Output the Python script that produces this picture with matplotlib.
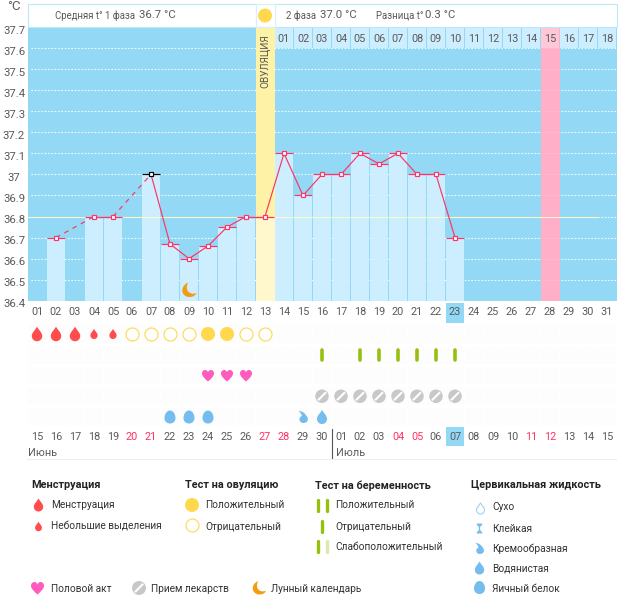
import matplotlib
matplotlib.use("Agg")
import matplotlib.pyplot as plt
from matplotlib.path import Path
from matplotlib.patches import Rectangle

plt.rcParams['font.family'] = ['Roboto', 'DejaVu Sans']

# ---------- data ----------
temp_days = [2, 4, 5, 7, 8, 9, 10, 11, 12, 13, 14, 15, 16, 17, 18, 19, 20, 21, 22, 23]
temps = [36.7, 36.8, 36.8, 37.0, 36.67, 36.6, 36.66, 36.75, 36.8, 36.8,
         37.1, 36.9, 37.0, 37.0, 37.1, 37.05, 37.1, 37.0, 37.0, 36.7]
black_day = 7
coverline = 36.8
y_ticks = [37.7, 37.6, 37.5, 37.4, 37.3, 37.2, 37.1, 37.0, 36.9, 36.8, 36.7, 36.6, 36.5, 36.4]
y_tick_labels = ['37.7', '37.6', '37.5', '37.4', '37.3', '37.2', '37.1', '37', '36.9', '36.8', '36.7', '36.6', '36.5', '36.4']
cycle_days = list(range(1, 32))
cal_labels = ['15', '16', '17', '18', '19', '20', '21', '22', '23', '24', '25', '26', '27', '28', '29', '30',
              '01', '02', '03', '04', '05', '06', '07', '08', '09', '10', '11', '12', '13', '14', '15']
red_cal = [6, 7, 13, 14, 20, 21, 27, 28]
today_day = 23
ovulation_day = 13
peak_day = 28
phase2_labels = ['01', '02', '03', '04', '05', '06', '07', '08', '09', '10', '11', '12', '13', '14', '15', '16', '17', '18']
mens_heavy = [1, 2, 3]
mens_light = [4, 5]
ov_neg = [6, 7, 8, 9, 12, 13]
ov_pos = [10, 11]
preg_neg = [16, 18, 19, 20, 21, 22, 23]
sex = [10, 11, 12]
meds = [16, 17, 18, 19, 20, 21, 22, 23]
cm_egg = [8, 9, 10]
cm_cream = [15]
cm_watery = [16]
moon_days = [9]

# ---------- colours ----------
SKY = '#93D9F5'
BAR = '#CCEEFF'
RED = '#FF3366'
TXT = '#5a5a5a'
DARK = '#333333'
YEL = '#FFD84D'
DROP = '#FF4D4D'
BLUE = '#74BDEE'
GRN = '#97BF0D'
GREY = '#C8C8C8'
PINK = '#FF5CBE'
ORG = '#F39C12'

W, H = 626, 595
fig = plt.figure(figsize=(W / 100, H / 100), dpi=100, facecolor='white')


def axes_px(x0, y0, x1, y1, **kw):
    a = fig.add_axes([x0 / W, 1 - y1 / H, (x1 - x0) / W, (y1 - y0) / H], **kw)
    a.axis('off')
    return a


# ---------- marker paths ----------
M, C, L, Z = Path.MOVETO, Path.CURVE4, Path.LINETO, Path.CLOSEPOLY
drop = Path([(0, 1), (0.25, 0.55), (0.72, 0.2), (0.72, -0.28), (0.72, -0.72), (0.38, -1), (0, -1),
             (-0.38, -1), (-0.72, -0.72), (-0.72, -0.28), (-0.72, 0.2), (-0.25, 0.55), (0, 1), (0, 1)],
            [M, C, C, C, C, C, C, C, C, C, C, C, C, Z])
egg = Path([(0, 1), (0.55, 1), (0.85, 0.35), (0.85, -0.15), (0.85, -0.65), (0.5, -1), (0, -1),
            (-0.5, -1), (-0.85, -0.65), (-0.85, -0.15), (-0.85, 0.35), (-0.55, 1), (0, 1), (0, 1)],
           [M, C, C, C, C, C, C, C, C, C, C, C, C, Z])
heart = Path([(0, -1), (-0.5, -0.55), (-1, -0.15), (-1, 0.35), (-1, 0.8), (-0.6, 1), (-0.35, 0.9),
              (-0.15, 0.85), (-0.05, 0.7), (0, 0.55), (0.05, 0.7), (0.15, 0.85), (0.35, 0.9),
              (0.6, 1), (1, 0.8), (1, 0.35), (1, -0.15), (0.5, -0.55), (0, -1), (0, -1)],
             [M, C, C, C, C, C, C, C, C, C, C, C, C, C, C, C, C, C, C, Z])
moon = Path([(-0.1, 1), (-0.75, 0.75), (-1, 0.2), (-0.85, -0.3), (-0.7, -0.85), (-0.1, -1), (0.35, -0.9),
             (0.65, -0.85), (0.9, -0.65), (1, -0.4), (0.5, -0.6), (0, -0.45), (-0.2, -0.05),
             (-0.35, 0.3), (-0.3, 0.7), (-0.1, 1), (-0.1, 1)],
            [M, C, C, C, C, C, C, C, C, C, C, C, C, C, C, C, Z])
cream = Path([(-0.75, 1), (-0.2, 1), (0.2, 0.75), (0.4, 0.4), (0.7, 0.15), (0.8, -0.1), (0.8, -0.4),
              (0.8, -0.8), (0.45, -1), (0.05, -1), (-0.35, -1), (-0.6, -0.7), (-0.6, -0.35),
              (-0.6, -0.05), (-0.35, 0.1), (-0.2, 0.15), (-0.25, 0.5), (-0.45, 0.8), (-0.75, 1), (-0.75, 1)],
             [M, C, C, C, C, C, C, C, C, C, C, C, C, C, C, C, C, C, C, Z])
sticky = Path([(-0.55, 1), (0.55, 1), (0.55, 0.75), (0.12, 0.3), (0.12, -0.3), (0.55, -0.75), (0.55, -1),
               (-0.55, -1), (-0.55, -0.75), (-0.12, -0.3), (-0.12, 0.3), (-0.55, 0.75), (-0.55, 1)],
              [M, L, L, L, L, L, L, L, L, L, L, L, Z])
slash = Path([(-0.7, -0.7), (0.7, 0.7)], [M, L])


def sym(ax, xs, ys, marker, px, color='none', edge='none', lw=0, z=6):
    s = (px * 0.72) ** 2
    ax.scatter(xs, ys, marker=marker, s=s, facecolors=color, edgecolors=edge, linewidths=lw, zorder=z, clip_on=False)


def pill(ax, xs, ys, px=13.5):
    sym(ax, xs, ys, 'o', px, GREY)
    sym(ax, xs, ys, slash, px * 0.6, 'none', 'white', 1.5, z=7)


# ---------- main temperature axes ----------
X0, X1 = 27.5, 616.5
ax = axes_px(X0, 27, X1, 300.8)
ax.set_xlim(0.5, 31.5)
ax.set_ylim(36.4, 37.7)
ax.axvspan(0.5, 31.5, color=SKY, lw=0, zorder=0)
for v in y_ticks[1:]:
    ax.plot([0.7, 31.5], [v, v], color='white', lw=0.8, ls=(0, (1.2, 1.8)), zorder=1, clip_on=False)
ax.axvspan(peak_day - 0.5, peak_day + 0.5, color='#FFB0C8', lw=0, zorder=1.5)
ax.axvspan(ovulation_day - 0.5, ovulation_day + 0.5, color='#FDF2A6', lw=0, zorder=1.5)

for d, t in zip(temp_days, temps):
    col = '#FFF8CC' if d == ovulation_day else BAR
    wid = 1.0 if d == ovulation_day else 18 / 19
    ax.bar(d, t - 36.4, bottom=36.4, width=wid, color=col, lw=0, zorder=2)
for v in y_ticks[1:]:
    ax.plot([0.7, 31.5], [v, v], color='white', lw=0.5, alpha=0.3, ls=(0, (1.2, 1.8)), zorder=2.5)
ax.plot([0.5, 30.5], [coverline, coverline], color='#FFF8C8', lw=0.7, zorder=2.6)

for i in range(len(temp_days) - 1):
    a, b = temp_days[i], temp_days[i + 1]
    ls = '-' if b - a == 1 else (0, (4, 4))
    ax.plot([a, b], [temps[i], temps[i + 1]], color=RED, lw=0.85, ls=ls, zorder=4)
for d, t in zip(temp_days, temps):
    c = 'black' if d == black_day else RED
    ax.plot([d - 0.45, d + 0.45], [t, t], color=c, lw=0.85, zorder=3.5, solid_capstyle='butt')
    ax.plot([d], [t], marker='s', ms=3.4, mfc='white', mec=c, mew=0.85, zorder=5)
sym(ax, moon_days, [36.451] * len(moon_days), moon, 15, ORG)

for v, lab in zip(y_ticks, y_tick_labels):
    ax.annotate(lab, (0, v), xycoords=('axes fraction', 'data'), xytext=(-13.5 * 0.72, -2.6), textcoords='offset points',
                ha='center', va='center', fontsize=8.2, color=TXT, annotation_clip=False)

# ---------- pixel overlay ----------
top = axes_px(0, 0, W, H)
top.set_xlim(0, W)
top.set_ylim(H, 0)


def T(a, x, y, s, size=7.8, color=DARK, ha='left', **kw):
    a.text(x, y, s, fontsize=size, color=color, ha=ha, va='center', **kw)


top.text(14, 6, '°C', fontsize=9.5, color=TXT, ha='center', va='center')
for x0, x1 in [(27.5, 255.5), (274.5, 616.5)]:
    top.add_patch(Rectangle((x0, 4), x1 - x0, 23, fc='white', ec='#BDE8F8', lw=0.8))
top.add_patch(Rectangle((255.5, 4), 19, 23, fc='white', ec='#D5F0FA', lw=0.8))
sym(top, [265], [15.5], 'o', 14, YEL)
T(top, 55, 15.5, 'Средняя t° 1 фаза', 6.9, TXT)
T(top, 139, 15.5, '36.7 °C', 8.2, TXT)
T(top, 286, 15.5, '2 фаза', 6.9, TXT)
T(top, 320, 15.5, '37.0 °C', 8.2, TXT)
T(top, 376, 15.5, 'Разница t°', 6.9, TXT)
T(top, 425, 15.5, '0.3 °C', 8.2, TXT)

# phase-2 day row
for i, lab in enumerate(phase2_labels):
    d = ovulation_day + 1 + i
    xc = 37 + 19 * (d - 1)
    fc = '#FFC8D8' if d == peak_day else BAR
    top.add_patch(Rectangle((xc - 9, 27.5), 18, 20.5, fc=fc, ec='none', zorder=2))
    T(top, xc, 39, lab, 7.8, TXT, ha='center', zorder=3)
top.text(265, 61, 'ОВУЛЯЦИЯ', fontsize=7.2, color=TXT, rotation=90, ha='center', va='center')

# ---------- rows axes ----------
R_TOP, R_BOT = 303, 460
STEP = 20.75
rows = axes_px(X0, R_TOP, X1, R_BOT)
rows.set_xlim(0.5, 31.5)
rows.set_ylim((R_BOT - 334) / STEP, (R_TOP - 334) / STEP)
for r in range(5):
    for d in cycle_days:
        rows.add_patch(Rectangle((d - 0.46, r - 0.43), 0.92, 0.86, fc='#FDFDFD', ec='none', zorder=0))

rows.add_patch(Rectangle((today_day - 0.47, -1.5), 0.94, 0.96, fc=SKY, ec='none', zorder=1))
rows.add_patch(Rectangle((today_day - 0.47, 4.5), 0.94, 0.92, fc=SKY, ec='none', zorder=1))
for d, lab in zip(cycle_days, cycle_days):
    rows.text(d, -1.05, f'{lab:02d}', fontsize=7.8, color=TXT, ha='center', va='center', zorder=2)
for d, lab in zip(cycle_days, cal_labels):
    c = RED if d in red_cal else TXT
    rows.text(d, 4.97, lab, fontsize=7.8, color=c, ha='center', va='center', zorder=2)

sym(rows, mens_heavy, [0] * len(mens_heavy), drop, 14.5, DROP)
sym(rows, mens_light, [0] * len(mens_light), drop, 10, DROP)
sym(rows, ov_pos, [0] * len(ov_pos), 'o', 14, YEL)
sym(rows, ov_neg, [0] * len(ov_neg), 'o', 13, 'white', YEL, 0.8)
for d in preg_neg:
    rows.plot([d, d], [0.76, 1.24], color=GRN, lw=2.6, solid_capstyle='round', zorder=6)
sym(rows, sex, [2] * len(sex), heart, 12, PINK)
pill(rows, meds, [3] * len(meds))
sym(rows, cm_egg, [4] * len(cm_egg), egg, 13, BLUE)
sym(rows, cm_cream, [4] * len(cm_cream), cream, 12, BLUE)
sym(rows, cm_watery, [4] * len(cm_watery), drop, 14, BLUE)

# month labels & separators
T(top, 28, 453.5, 'Июнь', 7.8, TXT)
T(top, 336, 453.5, 'Июль', 7.8, TXT)
top.plot([331.5, 331.5], [429, 458], color='#555555', lw=0.8)
top.plot([27, 616], [458.5, 458.5], color='#EEEEEE', lw=0.8)

# ---------- legend ----------
LS = 7.3
for x, s in [(31, 'Менструация'), (185, 'Тест на овуляцию'), (315, 'Тест на беременность'), (471, 'Цервикальная жидкость')]:
    T(top, x, 485.5, s, 7.8, '#222222', fontweight='bold')

sym(top, [38.5], [505], drop, 13, DROP)
T(top, 51, 505.5, 'Менструация', LS)
sym(top, [38.5], [526.5], drop, 9.5, DROP)
T(top, 51, 526.5, 'Небольшие выделения', LS)
sym(top, [192], [505], 'o', 14, YEL)
T(top, 205, 505.5, 'Положительный', LS)
sym(top, [192], [525], 'o', 13, 'white', YEL, 0.8)
T(top, 205, 526.5, 'Отрицательный', LS)

for x, c in [(317.5, GRN), (326.5, GRN)]:
    top.plot([x, x], [499.5, 510.5], color=c, lw=2.4, solid_capstyle='round')
top.plot([322, 322], [520.5, 531.5], color=GRN, lw=2.4, solid_capstyle='round')
top.plot([317.5, 317.5], [540.5, 551.5], color=GRN, lw=2.4, solid_capstyle='round')
top.plot([326.5, 326.5], [540.5, 551.5], color='#DDE8B0', lw=2.4, solid_capstyle='round')
T(top, 335, 505.5, 'Положительный', LS)
T(top, 335, 526.5, 'Отрицательный', LS)
T(top, 335, 546.5, 'Слабоположительный', LS)

sym(top, [479.5], [508], drop, 11, 'white', '#9AD2F5', 0.8)
sym(top, [479.5], [528.5], sticky, 10, BLUE)
sym(top, [479.5], [548.5], cream, 11, BLUE)
sym(top, [479.5], [568], drop, 13, BLUE)
sym(top, [479.5], [587.5], egg, 13, BLUE)
T(top, 492, 507.5, 'Сухо', LS)
T(top, 492, 528.5, 'Клейкая', LS)
T(top, 492, 548.5, 'Кремообразная', LS)
T(top, 492, 568.5, 'Водянистая', LS)
T(top, 492, 588.5, 'Яичный белок', LS)

sym(top, [37.5], [588], heart, 13, PINK)
T(top, 51, 588.5, 'Половой акт', LS)
pill(top, [139], [588], 14)
T(top, 151, 588.5, 'Прием лекарств', LS)
sym(top, [259], [588], moon, 14, ORG)
T(top, 271, 588.5, 'Лунный календарь', LS)

fig.savefig('out.png', dpi=100, facecolor='white')
